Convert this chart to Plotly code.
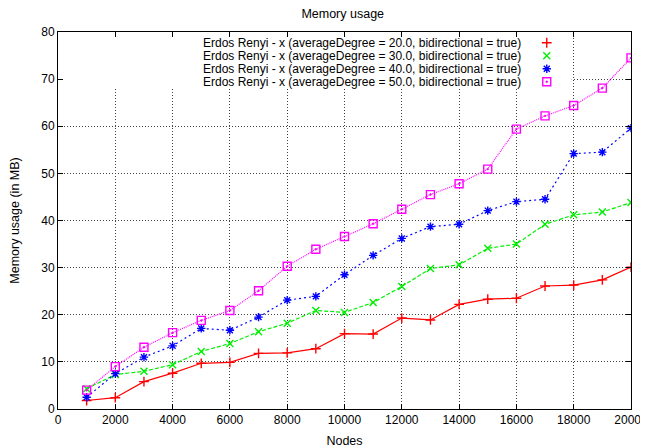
import plotly.graph_objects as go

nodes = [1000, 2000, 3000, 4000, 5000, 6000, 7000, 8000, 9000, 10000,
         11000, 12000, 13000, 14000, 15000, 16000, 17000, 18000, 19000, 20000]

deg20 = [1.8, 2.4, 5.8, 7.6, 9.7, 9.9, 11.8, 11.9, 12.8, 16.0,
         15.9, 19.3, 18.9, 22.2, 23.3, 23.5, 26.1, 26.3, 27.4, 30.1]
deg30 = [4.3, 7.3, 8.0, 9.4, 12.2, 13.9, 16.4, 18.2, 20.9, 20.5,
         22.6, 26.0, 29.8, 30.6, 34.1, 35.0, 39.2, 41.2, 41.8, 43.8]
deg40 = [2.5, 7.5, 11.0, 13.4, 17.1, 16.7, 19.5, 23.1, 23.9, 28.5,
         32.6, 36.2, 38.7, 39.2, 42.1, 44.0, 44.5, 54.2, 54.5, 59.6]
deg50 = [4.0, 9.0, 13.1, 16.2, 18.8, 20.9, 25.1, 30.3, 33.9, 36.6,
         39.3, 42.4, 45.5, 47.8, 50.9, 59.4, 62.2, 64.4, 68.1, 74.5]

series_names = [
    "Erdos Renyi - x (averageDegree = 20.0, bidirectional = true)",
    "Erdos Renyi - x (averageDegree = 30.0, bidirectional = true)",
    "Erdos Renyi - x (averageDegree = 40.0, bidirectional = true)",
    "Erdos Renyi - x (averageDegree = 50.0, bidirectional = true)",
]

x_ticks = [0, 2000, 4000, 6000, 8000, 10000, 12000, 14000, 16000, 18000, 20000]
y_ticks = [0, 10, 20, 30, 40, 50, 60, 70, 80]

colors = ["#ff0000", "#00ee00", "#0000ff", "#ff00ff"]
symbols = ["cross-thin-open", "x-thin-open", "asterisk-open", "square-open-dot"]
dashes = ["solid", "4px,2px", "2px,3px", "1px,1px"]
msizes = [7, 7, 7, 8]

FONT = "Liberation Sans, Arial, sans-serif"
FS = 12.5
TICK_FS = 12
KEY_FS = 12

fig = go.Figure()
for i, ys in enumerate([deg20, deg30, deg40, deg50]):
    fig.add_trace(go.Scatter(
        x=nodes, y=ys, mode="lines+markers", name=series_names[i],
        line=dict(color=colors[i], width=1.2, dash=dashes[i]),
        marker=dict(symbol=symbols[i], size=msizes[i], color=colors[i],
                    line=dict(color=colors[i], width=1.4)),
        showlegend=False,
    ))

# custom key (gnuplot style: text right-aligned, symbol on the right)
key_rows = [0.9715, 0.9370, 0.9025, 0.8680]
for i in range(4):
    fig.add_trace(go.Scatter(
        x=[0.853], y=[key_rows[i]], mode="markers", xaxis="x2", yaxis="y2",
        marker=dict(symbol=symbols[i], size=msizes[i], color=colors[i],
                    line=dict(color=colors[i], width=1.4)),
        showlegend=False, hoverinfo="skip",
    ))
    fig.add_annotation(
        x=0.81, y=key_rows[i], xref="x domain", yref="y domain",
        text=series_names[i], showarrow=False, xanchor="right", yanchor="middle",
        borderpad=0,
        font=dict(family=FONT, size=KEY_FS, color="#000"),
    )

# opaque key box hiding the grid behind the key
fig.add_shape(type="rect", xref="x", yref="y", x0=0, x1=17930, y0=68.0, y1=80,
              fillcolor="white", line=dict(width=0), layer="between")

axis_common = dict(
    showline=True, linecolor="black", linewidth=1, mirror="ticks",
    ticks="inside", ticklen=5, tickcolor="black", tickwidth=1,
    showgrid=True, gridcolor="#444444", gridwidth=1, griddash="1px,2px",
    zeroline=False, automargin=False, ticklabeloverflow="allow",
    tickfont=dict(family=FONT, size=TICK_FS, color="#000"),
)

fig.update_layout(
    width=640, height=440,
    margin=dict(l=50, r=17, t=24, b=39, autoexpand=False),
    paper_bgcolor="white", plot_bgcolor="white",
    title=dict(text="Memory usage", x=0.523, xanchor="center", y=0.9875, yanchor="middle",
               font=dict(family=FONT, size=FS, color="#000")),
    xaxis=dict(range=[0, 20000], tickvals=x_ticks, ticktext=[str(t) for t in x_ticks],
               title=dict(text="Nodes", font=dict(family=FONT, size=FS, color="#000"), standoff=10),
               **axis_common),
    yaxis=dict(range=[0, 80], tickvals=y_ticks, ticktext=[str(t) for t in y_ticks],
               title=dict(text="Memory usage (in MB)", font=dict(family=FONT, size=FS, color="#000"), standoff=20),
               **axis_common),
    xaxis2=dict(range=[0, 1], overlaying="x", visible=False, fixedrange=True),
    yaxis2=dict(range=[0, 1], overlaying="y", visible=False, fixedrange=True),
)

fig.write_html("out.html")
